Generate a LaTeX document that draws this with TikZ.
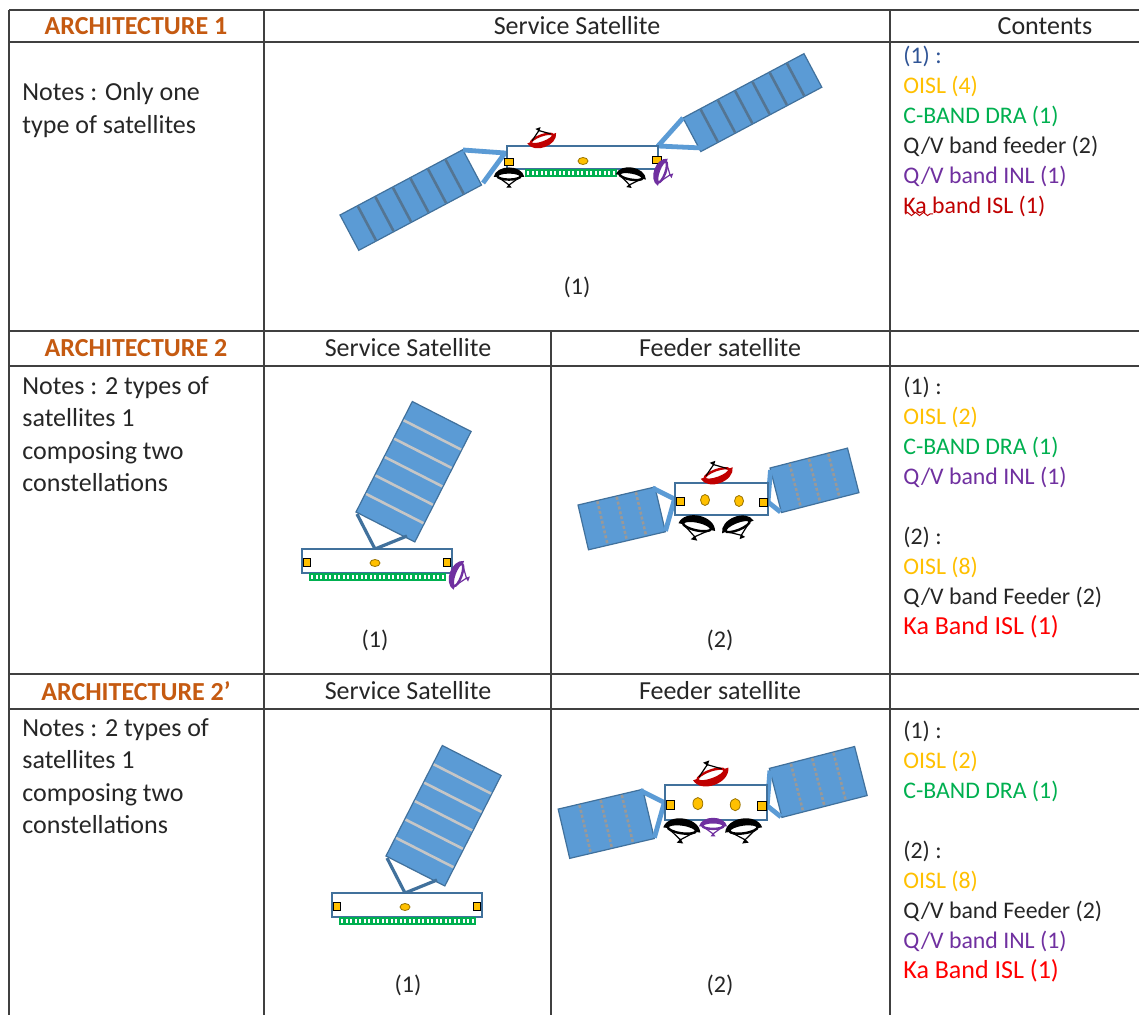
\documentclass[tikz,border=0pt]{standalone}
\usepackage{fontspec}
\setmainfont{Carlito}
\usetikzlibrary{decorations.pathmorphing}
\definecolor{archorange}{RGB}{197,90,17}
\definecolor{panelblue}{RGB}{91,155,213}
\definecolor{edgeblue}{RGB}{65,113,156}
\definecolor{oislgold}{RGB}{255,192,0}
\definecolor{dragreen}{RGB}{0,176,80}
\definecolor{inlpurple}{RGB}{112,48,160}
\definecolor{isldarkred}{RGB}{192,0,0}
\definecolor{islred}{RGB}{255,0,0}
\definecolor{navytext}{RGB}{47,84,150}
\definecolor{gridgray}{RGB}{64,64,64}
\definecolor{textgray}{RGB}{38,38,38}

% corner, angle, length, width, cells, separator style
\newcommand{\solarwing}[6]{%
  \begin{scope}[shift={#1}, rotate=#2]
    \filldraw[fill=panelblue, draw=edgeblue, line width=0.6pt] (0,0) rectangle (#3,#4);
    \foreach \k in {2,...,#5}
      \draw[#6] ({(\k-1)*#3/#5},0.8) -- ({(\k-1)*#3/#5},#4-0.8);
  \end{scope}}

% bowl colour, strut colour, position, options
\newcommand{\antenna}[4]{%
  \begin{scope}[shift={#3}, #4]
    \fill[#1] (-17,1) .. controls (-14,-13) and (14,-13) .. (17,1) -- cycle;
    \filldraw[fill=white, draw=#1, line width=1.2pt] (0,0) ellipse [x radius=13, y radius=4];
    \draw[#2, line width=0.6pt] (-11,2) -- (0,10) -- (11,2);
    \fill[#2] (0,9) -- (-3,13) -- (3,13) -- cycle;
  \end{scope}}

% left x, top y, number of elements
\newcommand{\dra}[3]{%
  \fill[dragreen] (#1,#2) rectangle ({#1+4.5*#3+1.5},#2+8);
  \foreach \k in {1,...,#3}
    \fill[white] ({#1+4.5*\k-2.2},#2+2) rectangle ({#1+4.5*\k-0.2},#2+6);}

\newcommand{\servicebus}{%
  \solarwing{(-21,-49)}{63}{124}{66}{6}{seplight}
  \draw[darkyoke] (-20,-47) -- (-2,-12) -- (30,-25);
  \filldraw[bus] (-75,-12) rectangle (75,12);
  \filldraw[oisl] (-74,-3) rectangle (-67,5);
  \filldraw[oisl] (66,-3) rectangle (73,5);
  \filldraw[oislpod] (-2,2) ellipse [x radius=5, y radius=3.5];
  \dra{-68}{12}{30}}

\newcommand{\feederbus}{%
  \solarwing{(-143.5,6)}{13.2}{79}{46}{4}{sephatch}
  \solarwing{(48.5,-31)}{14.4}{80}{46}{4}{sephatch}
  \draw[yoke] (-69,-11) -- (-47,0) -- (-56,32);
  \draw[yoke] (49,-29) -- (46.5,3) -- (59,13);
  \filldraw[bus] (-46.5,-16) rectangle (46.5,16);
  \filldraw[oisl] (-45.5,-2) rectangle (-37.5,6);
  \filldraw[oisl] (37.5,-1) rectangle (45.5,7);
  \filldraw[oislpod] (-16.5,1) ellipse [x radius=4.5, y radius=5.5];
  \filldraw[oislpod] (17.5,2) ellipse [x radius=4.5, y radius=5.5];
  \antenna{isldarkred}{black}{(-4.5,-25)}{rotate=200}}

\begin{document}
\begin{tikzpicture}[x=0.5pt, y=-0.5pt,
  tableline/.style={draw=gridgray, line width=1.1pt},
  head/.style={font=\fontsize{13}{16}\selectfont, text=textgray},
  archhead/.style={font=\fontsize{13}{16}\selectfont\bfseries, text=archorange},
  notes/.style={font=\fontsize{13}{16.2}\selectfont, text=textgray, align=left, anchor=west, inner sep=0pt},
  contents/.style={font=\fontsize{11.9}{15}\selectfont, text=textgray, align=left, anchor=west, inner sep=0pt},
  satlabel/.style={font=\fontsize{12}{14}\selectfont, text=textgray},
  bus/.style={fill=white, draw=edgeblue, line width=0.7pt},
  oisl/.style={fill=oislgold, draw=black, line width=0.4pt},
  oislpod/.style={fill=oislgold, draw=oislgold!60!black, line width=0.4pt},
  yoke/.style={draw=panelblue, line width=2.4pt, line join=round},
  darkyoke/.style={draw=edgeblue, line width=1.6pt, line join=round},
  sepdark/.style={draw=edgeblue!70!gray, line width=1.3pt},
  seplight/.style={draw=gray!45, line width=1.3pt},
  sephatch/.style={draw=gray!80, line width=1.3pt, dash pattern=on 1.5pt off 1pt}]

\fill[white] (0,0) rectangle (1139,1015);
\useasboundingbox (0,0) rectangle (1139,1015);

\foreach \ty in {10,42,331,366,674,709}
  \draw[tableline] (9,\ty) -- (1139,\ty);
\draw[tableline] (9,10) -- (9,1015);
\draw[tableline] (264,10) -- (264,1015);
\draw[tableline] (890,10) -- (890,1015);
\draw[tableline] (551,331) -- (551,1015);

\node[archhead] (arch1) at (136,26) {ARCHITECTURE 1};
\node[head] (svc1) at (577,26) {Service Satellite};
\node[head] (cont) at (1045,26) {Contents};
\node[archhead] (arch2) at (136,348) {ARCHITECTURE 2};
\node[head] (svc2) at (408,348) {Service Satellite};
\node[head] (fdr2) at (720,348) {Feeder satellite};
\node[archhead] (arch3) at (136,691) {ARCHITECTURE 2’};
\node[head] (svc3) at (408,691) {Service Satellite};
\node[head] (fdr3) at (720,691) {Feeder satellite};

\node[notes] (notes1) at (22,110) {Notes : Only one\\type of satellites};
\node[notes] (notes2) at (22,434) {Notes : 2 types of\\satellites 1\\composing two\\constellations};
\node[notes] (notes3) at (22,776) {Notes : 2 types of\\satellites 1\\composing two\\constellations};

\node[contents] (cont1) at (903,131) {\textcolor{navytext}{(1) :}\\
  \textcolor{oislgold}{OISL (4)}\\
  \textcolor{dragreen}{C-BAND DRA (1)}\\
  Q/V band feeder (2)\\
  \textcolor{inlpurple}{Q/V band INL (1)}\\
  \textcolor{isldarkred}{Ka band ISL (1)}};
\draw[isldarkred, line width=0.5pt, decorate,
  decoration={snake, amplitude=0.8pt, segment length=4pt}] (905,214) -- (933,214);

\node[contents] (cont2) at (903,508) {(1) :\\
  \textcolor{oislgold}{OISL (2)}\\
  \textcolor{dragreen}{C-BAND DRA (1)}\\
  \textcolor{inlpurple}{Q/V band INL (1)}\\[15pt]
  (2) :\\
  \textcolor{oislgold}{OISL (8)}\\
  Q/V band Feeder (2)\\
  {\fontsize{13}{15}\selectfont\textcolor{islred}{Ka Band ISL (1)}}};

\node[contents] (cont3) at (903,852) {(1) :\\
  \textcolor{oislgold}{OISL (2)}\\
  \textcolor{dragreen}{C-BAND DRA (1)}\\[15pt]
  (2) :\\
  \textcolor{oislgold}{OISL (8)}\\
  Q/V band Feeder (2)\\
  \textcolor{inlpurple}{Q/V band INL (1)}\\
  {\fontsize{13}{15}\selectfont\textcolor{islred}{Ka Band ISL (1)}}};

\node[satlabel] (lab1) at (577,287) {(1)};
\node[satlabel] (lab2a) at (375,640) {(1)};
\node[satlabel] (lab2b) at (720,640) {(2)};
\node[satlabel] (lab3a) at (408,985) {(1)};
\node[satlabel] (lab3b) at (720,985) {(2)};

\solarwing{(340,215)}{28}{139}{40}{7}{sepdark}
\solarwing{(683,118)}{28}{137}{38}{7}{sepdark}
\draw[yoke] (463,150) -- (505,153) -- (483,183);
\draw[yoke] (683,118) -- (658,146) -- (702,148);
\filldraw[bus] (507,146) rectangle (658,169);
\filldraw[oisl] (504,158) rectangle (513,165);
\filldraw[oisl] (652,156) rectangle (661,163);
\filldraw[oislpod] (583,161) ellipse [x radius=5, y radius=3.5];
\dra{525}{169}{20}
\antenna{black}{black}{(509,176)}{scale=0.9}
\antenna{black}{black}{(631,176)}{rotate=-10, scale=0.9}
\antenna{isldarkred}{black}{(542,139)}{rotate=200, scale=0.9}
\antenna{inlpurple}{inlpurple}{(662,172)}{rotate=70, scale=0.85}

\begin{scope}[shift={(377,561)}]
  \servicebus
  \antenna{inlpurple}{inlpurple}{(81,14)}{rotate=70, scale=0.9}
\end{scope}
\begin{scope}[shift={(407,905)}]
  \servicebus
\end{scope}

\begin{scope}[shift={(721.5,499)}]
  \feederbus
  \antenna{black}{black}{(-24.5,27)}{rotate=-12, scale=1.1}
  \antenna{black}{black}{(16,27)}{rotate=22}
\end{scope}
\begin{scope}[shift={(716,802.5)}, scale=1.1]
  \feederbus
  \antenna{black}{black}{(-31,24)}{rotate=-8}
  \antenna{black}{black}{(25,24)}{rotate=8}
  \antenna{inlpurple}{inlpurple}{(-2.7,21)}{scale=0.75}
\end{scope}
\end{tikzpicture}
\end{document}
